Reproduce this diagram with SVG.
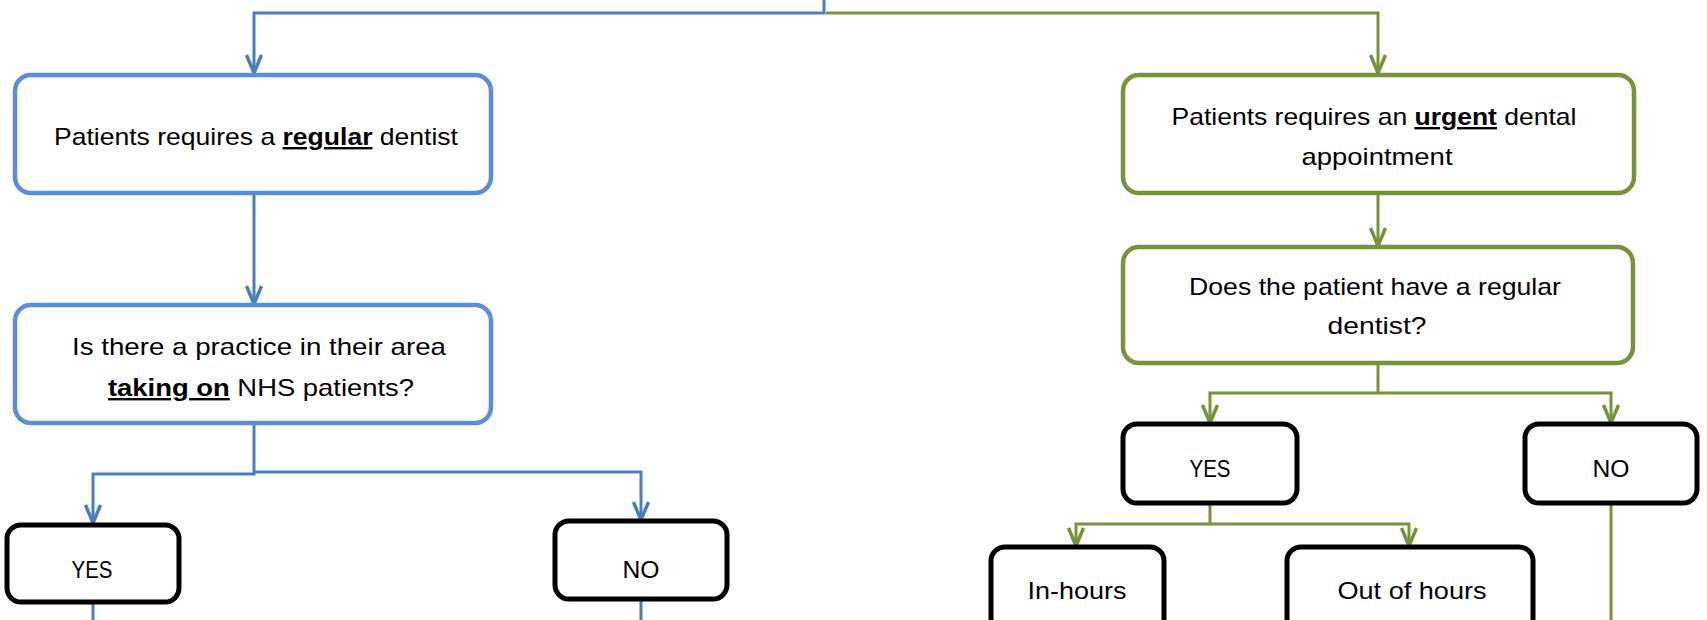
<svg xmlns="http://www.w3.org/2000/svg" width="1707" height="620" viewBox="0 0 1707 620">
<defs>
<style>
.bl{fill:none;stroke:#4A7EBB;stroke-width:3}
.gl{fill:none;stroke:#77933C;stroke-width:3}
.bb{fill:#fff;stroke:#5B8FD4;stroke-width:4.5}
.gb{fill:#fff;stroke:#77933C;stroke-width:4.5}
.kb{fill:#fff;stroke:#000;stroke-width:5}
text{font-family:"Liberation Sans",Arial,sans-serif;font-size:24px;fill:#000;text-anchor:middle}
.em{font-weight:bold;text-decoration:underline}
</style>
<marker id="ab" markerUnits="userSpaceOnUse" orient="auto" refX="0" refY="0" markerWidth="20" markerHeight="20" viewBox="-16 -10 20 20" overflow="visible">
<path d="M-18,-7.5 L0,0 L-18,7.5" fill="none" stroke="#4A7EBB" stroke-width="3.5"/>
</marker>
<marker id="ag" markerUnits="userSpaceOnUse" orient="auto" refX="0" refY="0" markerWidth="20" markerHeight="20" viewBox="-16 -10 20 20" overflow="visible">
<path d="M-18,-7.5 L0,0 L-18,7.5" fill="none" stroke="#77933C" stroke-width="3.5"/>
</marker>
</defs>
<g id="connectors">
<path class="bl" d="M824,0 V13 H254 V73" marker-end="url(#ab)"/>
<path class="bl" d="M254,194 V304" marker-end="url(#ab)"/>
<path class="bl" d="M254,423 V474 H93 V523" marker-end="url(#ab)"/>
<path class="bl" d="M254,472 H641 V520" marker-end="url(#ab)"/>
<path class="bl" d="M93,603 V620"/>
<path class="bl" d="M641,599 V620"/>
<path class="gl" d="M826,13 H1378 V73" marker-end="url(#ag)"/>
<path class="gl" d="M1378,193 V246" marker-end="url(#ag)"/>
<path class="gl" d="M1378,363 V393 H1210 V423" marker-end="url(#ag)"/>
<path class="gl" d="M1378,393 H1611 V423" marker-end="url(#ag)"/>
<path class="gl" d="M1210,503 V524 H1076 V546" marker-end="url(#ag)"/>
<path class="gl" d="M1210,524 H1409 V546" marker-end="url(#ag)"/>
<path class="gl" d="M1611,503 V620"/>
</g>
<g id="regular">
<rect class="bb" x="15" y="75" width="476" height="118" rx="16"/>
<text x="256" y="145" textLength="404" lengthAdjust="spacingAndGlyphs">Patients requires a <tspan class="em">regular</tspan> dentist</text>
</g>
<g id="practice">
<rect class="bb" x="15" y="305" width="476" height="118" rx="16"/>
<text x="259" y="355" textLength="374" lengthAdjust="spacingAndGlyphs">Is there a practice in their area</text>
<text x="261" y="396" textLength="306" lengthAdjust="spacingAndGlyphs"><tspan class="em">taking on</tspan> NHS patients?</text>
</g>
<g id="yes1">
<rect class="kb" x="7" y="525" width="172" height="77" rx="14"/>
<text x="92" y="578" textLength="41" lengthAdjust="spacingAndGlyphs">YES</text>
</g>
<g id="no1">
<rect class="kb" x="555" y="521" width="172" height="78" rx="14"/>
<text x="641" y="578" textLength="37" lengthAdjust="spacingAndGlyphs">NO</text>
</g>
<g id="urgent">
<rect class="gb" x="1123" y="75" width="511" height="118" rx="16"/>
<text x="1374" y="125" textLength="405" lengthAdjust="spacingAndGlyphs">Patients requires an <tspan class="em">urgent</tspan> dental</text>
<text x="1377" y="165" textLength="151" lengthAdjust="spacingAndGlyphs">appointment</text>
</g>
<g id="hasregular">
<rect class="gb" x="1123" y="247" width="510" height="116" rx="16"/>
<text x="1375" y="295" textLength="372" lengthAdjust="spacingAndGlyphs">Does the patient have a regular</text>
<text x="1377" y="334" textLength="99" lengthAdjust="spacingAndGlyphs">dentist?</text>
</g>
<g id="yes2">
<rect class="kb" x="1123" y="424" width="174" height="79" rx="14"/>
<text x="1210" y="477" textLength="41" lengthAdjust="spacingAndGlyphs">YES</text>
</g>
<g id="no2">
<rect class="kb" x="1525" y="424" width="172" height="79" rx="14"/>
<text x="1611" y="477" textLength="37" lengthAdjust="spacingAndGlyphs">NO</text>
</g>
<g id="inhours">
<rect class="kb" x="991" y="547" width="173" height="90" rx="14"/>
<text x="1077" y="599" textLength="99" lengthAdjust="spacingAndGlyphs">In-hours</text>
</g>
<g id="outofhours">
<rect class="kb" x="1287" y="547" width="246" height="90" rx="14"/>
<text x="1412" y="599" textLength="149" lengthAdjust="spacingAndGlyphs">Out of hours</text>
</g>
</svg>
